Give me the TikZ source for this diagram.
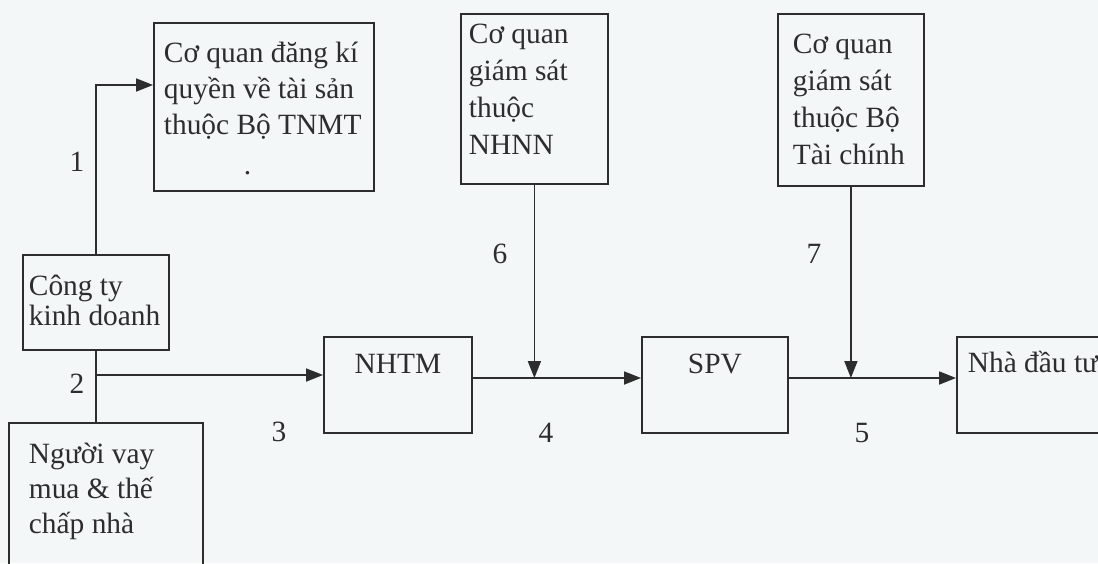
\documentclass[tikz,border=0pt]{standalone}
\usepackage{fontspec}
\setmainfont{Liberation Serif}
\usetikzlibrary{arrows.meta}
\definecolor{ink}{RGB}{45,45,45}
\definecolor{paper}{RGB}{243,247,247}

\begin{document}
\begin{tikzpicture}[x=1pt, y=-1pt, line width=1.8pt, color=ink,
    font=\fontsize{29.4}{36}\selectfont,
    box/.style={draw, anchor=north west, inner ysep=0pt},
    arr/.style={-{Triangle[length=17pt, width=13pt]}}]
    \useasboundingbox[fill=paper] (0,0) rectangle (1098,563);
    % Boxes
    \node[box, inner xsep=10pt] (reg) at (153,22) {\parbox[t][168pt][t]{200pt}{\rule{0pt}{40pt}Cơ quan đăng kí\\quyền về tài sản\\thuộc Bộ TNMT\\[4pt]\hspace*{80pt}.}};
    \node[box, inner xsep=6pt] (firm) at (22,254) {\parbox[t][95pt][t]{134pt}{\fontsize{29.4}{30}\selectfont\rule{0pt}{41pt}Công ty\\kinh doanh}};
    \node[box, inner xsep=20pt] (borrower) at (8,422) {\parbox[t][180pt][t]{154pt}{\fontsize{29.4}{35}\selectfont\rule{0pt}{41pt}Người vay\\mua \& thế\\chấp nhà}};
    \node[box, inner xsep=0pt] (nhtm) at (323,336) {\parbox[t][96pt][t]{148pt}{\centering\rule{0pt}{37pt}NHTM}};
    \node[box, inner xsep=0pt] (spv) at (641,336) {\parbox[t][96pt][t]{146pt}{\centering\rule{0pt}{37pt}SPV}};
    \node[box, inner xsep=11pt] (investor) at (956,336) {\parbox[t][96pt][t]{178pt}{\rule{0pt}{36pt}Nhà đầu tư}};
    \node[box, inner xsep=8pt] (nhnn) at (460,13) {\parbox[t][170pt][t]{131pt}{\fontsize{29.4}{37}\selectfont\rule{0pt}{30pt}Cơ quan\\giám sát\\thuộc\\NHNN}};
    \node[box, inner xsep=15pt] (btc) at (777,13) {\parbox[t][172pt][t]{116pt}{\fontsize{29.4}{37}\selectfont\rule{0pt}{40pt}Cơ quan\\giám sát\\thuộc Bộ\\Tài chính}};
    % Connectors
    \draw[arr] (firm.north) |- ([yshift=-63pt]reg.north west);
    \draw (firm.south) -- (firm.south |- borrower.north);
    \coordinate (split) at (firm.south |- 0,375);
    \draw[arr] (split) -- (split -| nhtm.west);
    \coordinate (j6) at (nhnn.south |- 0,378);
    \draw[arr] (nhtm.east |- j6) -- (spv.west |- j6);
    \draw[arr] (nhnn.south) -- (j6);
    \coordinate (j7) at (btc.south |- 0,378);
    \draw[arr] (spv.east |- j7) -- (investor.west |- j7);
    \draw[arr] (btc.south) -- (j7);
    % Numbers
    \node (l1) at (77,162) {1};
    \node (l2) at (77,384) {2};
    \node (l3) at (279,432) {3};
    \node (l4) at (546,433) {4};
    \node (l5) at (862,433) {5};
    \node (l6) at (500,254) {6};
    \node (l7) at (814,254) {7};
\end{tikzpicture}
\end{document}
